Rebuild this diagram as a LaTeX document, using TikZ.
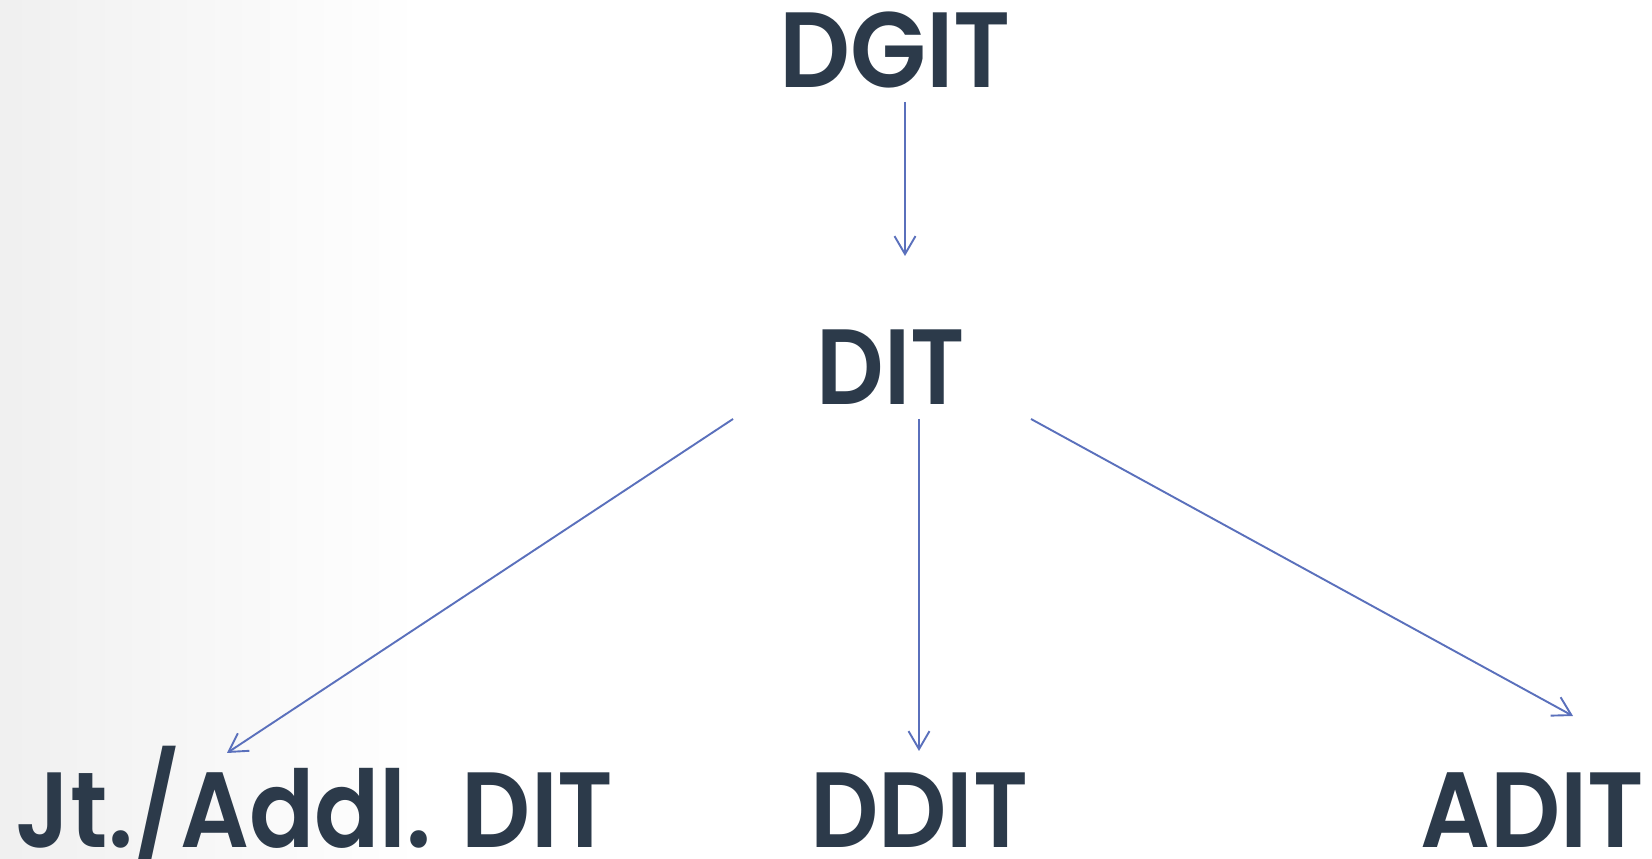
\documentclass[tikz,border=0pt]{standalone}
\usepackage{fontspec}
\setmainfont{Poppins}
\newfontfamily\popsemi{Poppins SemiBold}
\usetikzlibrary{arrows.meta}
\definecolor{txt}{HTML}{2C3A4A}
\definecolor{arr}{HTML}{5A70BC}
\tikzset{
  lbl/.style={inner sep=0pt, outer sep=0pt, text=txt, font=\fontsize{107}{107}\popsemi, transform shape},
  conn/.style={draw=arr, line width=1.9pt, -{Straight Barb[length=18pt,width=21pt,line width=1.9pt]}}
}
\begin{document}
\begin{tikzpicture}[x=1pt,y=1pt]
\useasboundingbox (0,0) rectangle (1652,859);
\fill[white] (0,0) rectangle (1652,859);
\shade[left color=black!6, right color=white] (0,0) rectangle (420,859);
\node[lbl, anchor=base, xscale=0.925] (dgit) at (895,771) {DGIT};
\node[lbl, anchor=base, xscale=0.88] (dit) at (891,454) {DIT};
\node[lbl, anchor=base west, xscale=0.90] (jt) at (16,11) {Jt./Addl. DIT};
\node[lbl, anchor=base, xscale=0.89] (ddit) at (919,11) {DDIT};
\node[lbl, anchor=base east, xscale=0.915] (adit) at (1644,11) {ADIT};
\coordinate (s1) at (905,757);
\coordinate (e1) at (905,603);
\coordinate (s2) at (733,440);
\coordinate (e2) at (227,106);
\coordinate (s3) at (919,440);
\coordinate (e3) at (919,108);
\coordinate (s4) at (1031,440);
\coordinate (e4) at (1573,143);
\draw[conn] (s1) -- (e1);
\draw[conn] (s2) -- (e2);
\draw[conn] (s3) -- (e3);
\draw[conn] (s4) -- (e4);
\end{tikzpicture}
\end{document}
